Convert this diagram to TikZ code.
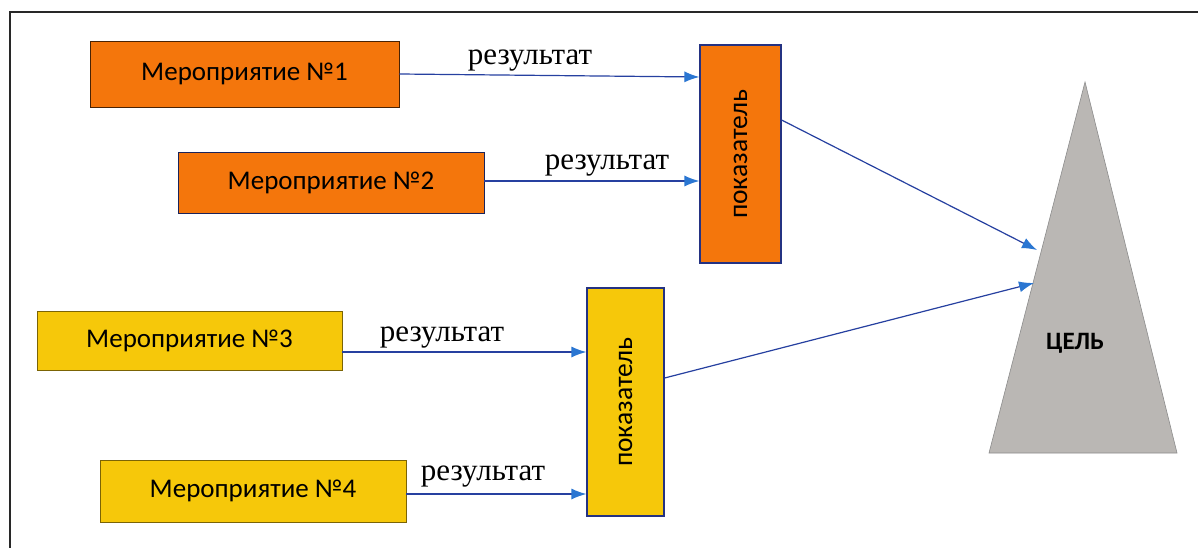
\documentclass[tikz,border=0pt]{standalone}
\usepackage{fontspec}
\setmainfont{Liberation Serif}
\newfontfamily\calib{Carlito}
\usetikzlibrary{arrows.meta}
\definecolor{orng}{RGB}{244,118,12}
\definecolor{yell}{RGB}{246,200,10}
\definecolor{grayt}{RGB}{186,183,180}
\definecolor{navy}{RGB}{36,50,130}
\definecolor{lineb}{RGB}{38,64,160}
\definecolor{tipb}{RGB}{42,118,210}
\definecolor{frm}{RGB}{40,40,40}
\tikzset{
  evbox/.style={draw=#1, line width=0.8pt, inner sep=0pt, font=\calib\fontsize{27}{30}\selectfont},
  indbox/.style={draw=navy, line width=1.2pt, inner sep=0pt, font=\calib\fontsize{27.5}{30}\selectfont},
  conn/.style={draw=lineb, line width=1.2pt, -{Latex[length=15pt,width=11pt,fill=tipb,color=tipb]}},
  res/.style={font=\fontsize{31}{34}\selectfont, inner sep=0pt}
}
\begin{document}
\begin{tikzpicture}[x=1pt,y=-1pt]
\useasboundingbox (0,0) rectangle (1198,548);
\fill[white] (0,0) rectangle (1198,548);
\draw[frm, line width=1.2pt] (10,548) -- (10,12) -- (1198,12);
% event boxes
\node[evbox={black!70!orng}, fill=orng, minimum width=309pt, minimum height=66pt] (b1) at (244.5,74) {Мероприятие №1};
\node[evbox={navy!70!black}, fill=orng, minimum width=306pt, minimum height=61pt] (b2) at (331,182.5) {Мероприятие №2};
\node[evbox={black!50!yell}, fill=yell, minimum width=305pt, minimum height=59pt] (b3) at (189.5,340.5) {Мероприятие №3};
\node[evbox={black!50!yell}, fill=yell, minimum width=306pt, minimum height=62pt] (b4) at (253,491) {Мероприятие №4};
% indicator boxes
\node[indbox, fill=orng, minimum width=81pt, minimum height=218pt] (p1) at (740.5,154) {\rotatebox{90}{показатель}};
\node[indbox, fill=yell, minimum width=77pt, minimum height=228pt] (p2) at (625.5,402) {\rotatebox{90}{показатель}};
% goal triangle
\coordinate (ta) at (1085,82);
\coordinate (tl) at (989,453);
\coordinate (tr) at (1177,453);
\fill[grayt] (ta) -- (tl) -- (tr) -- cycle;
\draw[black!45, line width=0.6pt] (ta) -- (tl) -- (tr) -- cycle;
\node[font=\calib\bfseries\fontsize{25}{28}\selectfont, inner sep=0pt] (goal) at (1075,343) {ЦЕЛЬ};
\coordinate (t1) at (1037,250);
\coordinate (t2) at (1034,283);
% connectors
\draw[conn] (b1.east) -- ([yshift=-3pt]b1.east -| p1.west);
\draw[conn] ([yshift=1.5pt]b2.east) -- ([yshift=1.5pt]b2.east -| p1.west);
\draw[conn] ([yshift=-11.5pt]b3.east) -- ([yshift=-11.5pt]b3.east -| p2.west);
\draw[conn] ([yshift=-3pt]b4.east) -- ([yshift=-3pt]b4.east -| p2.west);
\draw[conn] ([yshift=34pt]p1.east) -- (t1);
\draw[conn] ([yshift=24pt]p2.east) -- (t2);
% labels
\node[res] (r1) at (530,61) {результат};
\node[res] (r2) at (607,166) {результат};
\node[res] (r3) at (442,338) {результат};
\node[res] (r4) at (483,477) {результат};
\end{tikzpicture}
\end{document}
